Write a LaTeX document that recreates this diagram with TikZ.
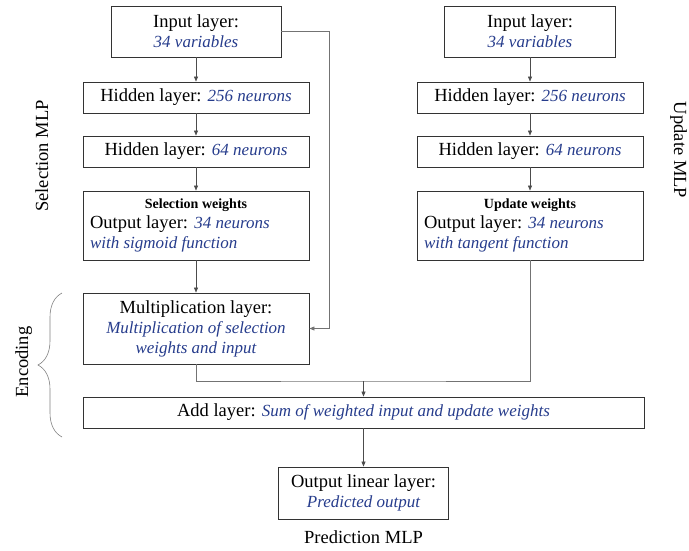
\documentclass[tikz,border=0pt]{standalone}
\usepackage{fontspec}
\setmainfont{Liberation Serif}[ItalicFont={Liberation Serif Italic},BoldFont={Liberation Serif Bold}]
\usetikzlibrary{positioning,arrows.meta,decorations.pathreplacing}
\definecolor{layerblue}{RGB}{38,60,140}
\newcommand{\desc}[1]{{\fontsize{17}{20}\selectfont\itshape\color{layerblue}#1}}
\tikzset{
  layer/.style={draw=black!80,line width=0.9pt,minimum width=226pt,minimum height=31pt,
    inner sep=0pt,align=center,font=\fontsize{18.5}{20}\selectfont},
  wtlayer/.style={layer,minimum height=69pt,text width=212pt,align=flush left},
  arr/.style={-{Triangle[length=5pt,width=4pt]},black!70,line width=0.6pt},
  link/.style={black!55,line width=0.6pt},
  caption/.style={font=\fontsize{18.5}{20}\selectfont,inner sep=0pt},
}

\begin{document}
\begin{tikzpicture}[x=1pt,y=-1pt]
\useasboundingbox (0,0) rectangle (689,551);
% selection MLP
\node[layer,minimum width=170pt,minimum height=51pt] (selin) at (196,31.5) {Input layer:\\ \desc{34 variables}};
\node[layer] (selh1) at (196,97.5) {Hidden layer: \desc{256 neurons}};
\node[layer] (selh2) at (196,151.5) {Hidden layer: \desc{64 neurons}};
\node[wtlayer] (selout) at (196,225.5) {\makebox[\linewidth]{\fontsize{14}{16}\selectfont\bfseries Selection weights}\\ Output layer: \desc{34 neurons}\\ \desc{with sigmoid function}};
\draw[arr] (selin) -- (selh1);
\draw[arr] (selh1) -- (selh2);
\draw[arr] (selh2) -- (selout);
\node[caption,rotate=90,anchor=base] (selname) at (48,156) {Selection MLP};
% update MLP
\node[layer,minimum width=171pt,minimum height=51pt] (updin) at (530,31.5) {Input layer:\\ \desc{34 variables}};
\node[layer] (updh1) at (530,97.5) {Hidden layer: \desc{256 neurons}};
\node[layer] (updh2) at (530,151.5) {Hidden layer: \desc{64 neurons}};
\node[wtlayer] (updout) at (530,225.5) {\makebox[\linewidth]{\fontsize{14}{16}\selectfont\bfseries Update weights}\\ Output layer: \desc{34 neurons}\\ \desc{with tangent function}};
\draw[arr] (updin) -- (updh1);
\draw[arr] (updh1) -- (updh2);
\draw[arr] (updh2) -- (updout);
\node[caption,rotate=-90,anchor=base] (updname) at (674,150) {Update MLP};
% encoding
\node[layer,minimum height=71pt] (mult) at (196,328.5) {Multiplication layer:\\ \desc{Multiplication of selection}\\ \desc{weights and input}};
\node[layer,minimum width=561pt] (add) at (363.5,412.5) {Add layer: \desc{Sum of weighted input and update weights}};
\draw[arr] (selout) -- (mult);
\coordinate (selbend) at (329,31.5);
\draw[arr,black!55] (selin.east) -- (selbend) |- (mult.east);
\coordinate (joint) at (363.5,381);
\draw[link] (mult.south) |- (joint) -| (updout.south);
\draw[arr] (joint) -- (add.north);
\draw[black!50,line width=0.6pt,decorate,decoration={brace,amplitude=24pt}] (62,437) -- (62,293);
\node[caption,rotate=90,anchor=base] (encname) at (28,362) {Encoding};
% prediction MLP
\node[layer,minimum width=170pt,minimum height=52pt] (pred) at (363.5,493) {Output linear layer:\\ \desc{Predicted output}};
\draw[arr] (add) -- (pred);
\node[caption,anchor=base] (predname) at (363.5,543) {Prediction MLP};
\end{tikzpicture}
\end{document}
